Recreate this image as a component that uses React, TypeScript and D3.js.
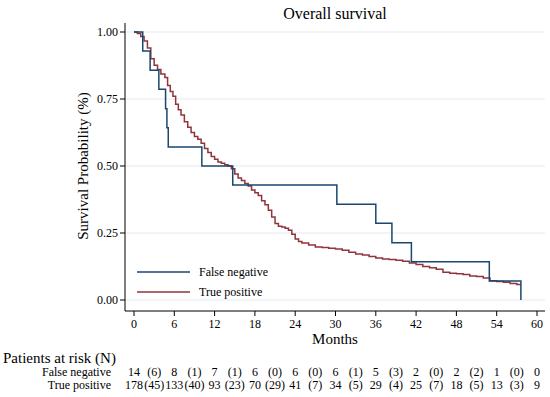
import { scaleLinear, line, curveStepAfter } from "d3";
import React from "react";

// false negative group (n = 14), step times in months and survival
const fnTimes = [0, 1.3, 2.4, 3.7, 4.7, 4.9, 5.1, 10.1, 14.7, 30.2, 36.0, 38.4, 41.3, 52.9, 57.6];
const fnSurv = [1, 0.929, 0.857, 0.786, 0.714, 0.643, 0.571, 0.5, 0.429, 0.357, 0.286, 0.214, 0.143, 0.071, 0];

// true positive group (n = 178)
const tpTimes = [
  0, 0.5, 1.0, 1.5, 2.0, 2.5, 3.0, 3.5, 4.0, 4.6, 5.0, 5.4, 5.8, 6.2, 6.6, 7.0, 7.5, 8.0, 8.5, 9.0,
  9.5, 10.0, 10.5, 11.0, 11.5, 12.0, 12.5, 13.0, 13.5, 14.0, 14.5, 15.0, 15.5, 16.0, 16.5, 17.0,
  17.5, 18.0, 18.5, 19.0, 19.5, 20.0, 20.5, 21.0, 21.5, 22.0, 22.5, 23.0, 23.5, 24.0, 24.5, 25.0,
  26.0, 27.0, 28.0, 29.0, 30.0, 31.0, 32.0, 33.0, 34.0, 35.0, 36.0, 37.0, 38.0, 39.0, 40.0, 41.0,
  42.0, 43.0, 44.0, 45.0, 46.0, 47.0, 48.0, 49.0, 50.0, 51.0, 52.0, 53.0, 54.0, 55.0, 56.0, 57.0, 57.5,
];
const tpSurv = [
  1, 0.994, 0.983, 0.966, 0.94, 0.9, 0.876, 0.86, 0.843, 0.83, 0.8, 0.778, 0.76, 0.73, 0.71, 0.69,
  0.665, 0.645, 0.625, 0.61, 0.6, 0.585, 0.565, 0.55, 0.535, 0.525, 0.515, 0.51, 0.505, 0.5, 0.49,
  0.47, 0.455, 0.446, 0.435, 0.425, 0.41, 0.4, 0.39, 0.37, 0.355, 0.335, 0.31, 0.285, 0.275, 0.272,
  0.268, 0.26, 0.245, 0.228, 0.218, 0.213, 0.205, 0.198, 0.196, 0.193, 0.19, 0.186, 0.178, 0.172,
  0.168, 0.162, 0.157, 0.153, 0.151, 0.148, 0.145, 0.138, 0.132, 0.125, 0.12, 0.115, 0.104, 0.1,
  0.098, 0.095, 0.09, 0.088, 0.082, 0.072, 0.069, 0.066, 0.062, 0.058, 0.056,
];

const xTicks = [0, 6, 12, 18, 24, 30, 36, 42, 48, 54, 60];
const yTicks = [0, 0.25, 0.5, 0.75, 1];
const yTickLabels = ["0.00", "0.25", "0.50", "0.75", "1.00"];

// patients at risk, every 3 months (numbers at 0,6,12..., events in brackets between)
const riskTimes = [0, 3, 6, 9, 12, 15, 18, 21, 24, 27, 30, 33, 36, 39, 42, 45, 48, 51, 54, 57, 60];
const riskFalseNeg = ["14", "(6)", "8", "(1)", "7", "(1)", "6", "(0)", "6", "(0)", "6", "(1)", "5", "(3)", "2", "(0)", "2", "(2)", "1", "(0)", "0"];
const riskTruePos = ["178", "(45)", "133", "(40)", "93", "(23)", "70", "(29)", "41", "(7)", "34", "(5)", "29", "(4)", "25", "(7)", "18", "(5)", "13", "(3)", "9"];

const seriesNames = ["False negative", "True positive"];
const colors = ["#1a476f", "#90353b"];

const FONT = '"Liberation Serif", "DejaVu Serif", serif';

const App = () => {
  const width = 550;
  const height = 397;

  const xScale = scaleLinear().domain([0, 60]).range([134, 537]);
  const yScale = scaleLinear().domain([0, 1]).range([300, 32]);

  const axisY = 311;
  const axisX = 125;

  const pathGen = line<[number, number]>()
    .x((d) => xScale(d[0]))
    .y((d) => yScale(d[1]))
    .curve(curveStepAfter);

  const fnPath = pathGen(fnTimes.map((t, i) => [t, fnSurv[i]]));
  const tpPath = pathGen(tpTimes.map((t, i) => [t, tpSurv[i]]));

  return (
    <svg
      width={width}
      height={height}
      style={{ position: "absolute", left: 0, top: 0, background: "#fff", fontFamily: FONT }}
    >
      <text x={335} y={19} fontSize={16} textAnchor="middle" fill="#000">
        Overall survival
      </text>

      {/* grid */}
      {yTicks.map((t) => (
        <line key={t} x1={axisX} x2={545} y1={yScale(t)} y2={yScale(t)} stroke="#e3eaf1" strokeWidth={1} />
      ))}

      {/* y axis */}
      <line x1={axisX} x2={axisX} y1={23} y2={axisY} stroke="#000" strokeWidth={1} />
      {yTicks.map((t, i) => (
        <g key={t}>
          <line x1={axisX - 5} x2={axisX} y1={yScale(t)} y2={yScale(t)} stroke="#000" />
          <text x={axisX - 7} y={yScale(t) + 4} fontSize={12} textAnchor="end">
            {yTickLabels[i]}
          </text>
        </g>
      ))}
      <text transform={`translate(88,166) rotate(-90)`} fontSize={15} textAnchor="middle">
        Survival Probability (%)
      </text>

      {/* x axis */}
      <line x1={axisX} x2={545} y1={axisY} y2={axisY} stroke="#000" strokeWidth={1} />
      {xTicks.map((t) => (
        <g key={t}>
          <line x1={xScale(t)} x2={xScale(t)} y1={axisY} y2={axisY + 5} stroke="#000" />
          <text x={xScale(t)} y={328} fontSize={12} textAnchor="middle">
            {t}
          </text>
        </g>
      ))}
      <text x={335} y={344} fontSize={15} textAnchor="middle">
        Months
      </text>

      {/* curves */}
      <path d={tpPath} fill="none" stroke={colors[1]} strokeWidth={1.5} />
      <path d={fnPath} fill="none" stroke={colors[0]} strokeWidth={1.5} />

      {/* legend */}
      {seriesNames.map((name, i) => (
        <g key={name} transform={`translate(0,${272 + i * 20})`}>
          <line x1={137} x2={190} y1={0} y2={0} stroke={colors[i]} strokeWidth={1.5} />
          <text x={199} y={4} fontSize={12}>
            {name}
          </text>
        </g>
      ))}

      {/* risk table */}
      <text x={3} y={363} fontSize={15}>
        Patients at risk (N)
      </text>
      <text x={111} y={376} fontSize={12} textAnchor="end">
        False negative
      </text>
      <text x={111} y={389} fontSize={12} textAnchor="end">
        True positive
      </text>
      {riskTimes.map((t, i) => (
        <g key={t}>
          <text x={xScale(t)} y={376} fontSize={12} textAnchor="middle">
            {riskFalseNeg[i]}
          </text>
          <text x={xScale(t)} y={389} fontSize={12} textAnchor="middle">
            {riskTruePos[i]}
          </text>
        </g>
      ))}
    </svg>
  );
};

export default App;
